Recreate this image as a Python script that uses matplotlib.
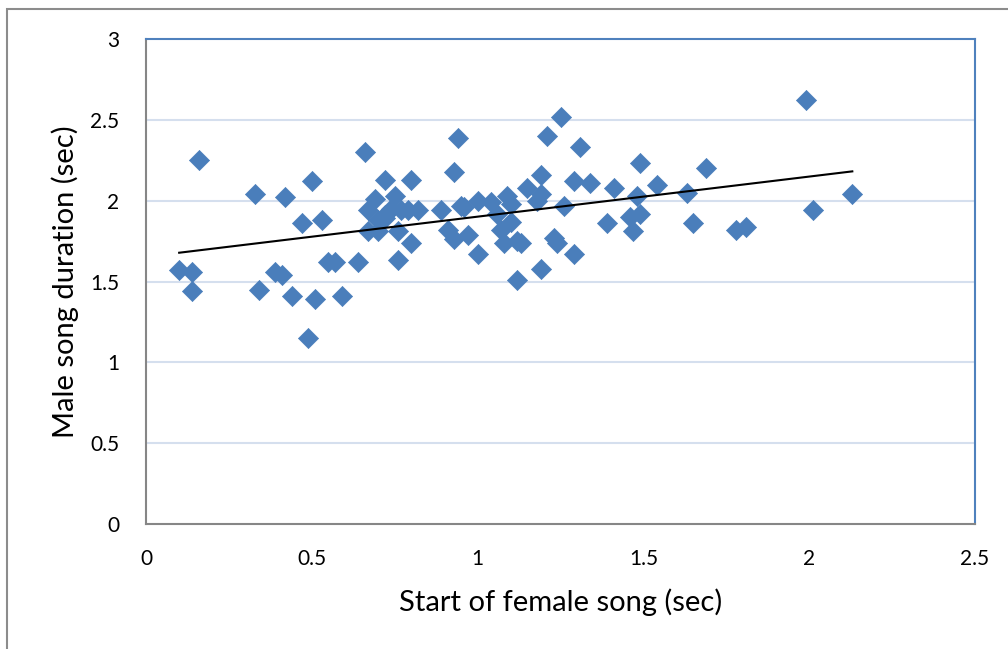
import numpy as np
import matplotlib
matplotlib.use("Agg")
import matplotlib.pyplot as plt
from matplotlib.patches import Rectangle

# Start of female song (sec)
female_start = [0.10, 0.14, 0.14, 0.16, 0.33, 0.34, 0.39, 0.41, 0.42, 0.44,
                0.47, 0.50, 0.49, 0.51, 0.53, 0.55, 0.57, 0.59, 0.64, 0.66,
                0.67, 0.67, 0.69, 0.70, 0.70, 0.72, 0.72, 0.72, 0.74, 0.75,
                0.76, 0.76, 0.77, 0.79, 0.80, 0.80, 0.82, 0.89, 0.91, 0.93,
                0.93, 0.94, 0.95, 0.96, 0.97, 1.00, 1.00, 1.04, 1.06, 1.07,
                1.08, 1.09, 1.10, 1.10, 1.12, 1.12, 1.13, 1.15, 1.18, 1.19,
                1.19, 1.19, 1.21, 1.23, 1.24, 1.25, 1.26, 1.29, 1.29, 1.31,
                1.34, 1.39, 1.41, 1.46, 1.47, 1.48, 1.49, 1.49, 1.54, 1.63,
                1.65, 1.69, 1.78, 1.81, 1.99, 2.01, 2.13]
# Male song duration (sec)
male_duration = [1.57, 1.44, 1.56, 2.25, 2.04, 1.45, 1.56, 1.54, 2.02, 1.41,
                 1.86, 2.12, 1.15, 1.39, 1.88, 1.62, 1.62, 1.41, 1.62, 2.30,
                 1.94, 1.81, 2.01, 1.81, 1.88, 1.89, 2.13, 1.91, 1.95, 2.03,
                 1.63, 1.81, 1.94, 1.94, 1.74, 2.13, 1.94, 1.94, 1.82, 1.76,
                 2.18, 2.39, 1.97, 1.96, 1.79, 1.67, 2.00, 1.99, 1.92, 1.82,
                 1.74, 2.03, 1.98, 1.87, 1.51, 1.75, 1.74, 2.08, 2.00, 2.04,
                 1.58, 2.16, 2.40, 1.77, 1.74, 2.52, 1.97, 1.67, 2.12, 2.33,
                 2.11, 1.86, 2.08, 1.90, 1.81, 2.03, 1.92, 2.23, 2.10, 2.05,
                 1.86, 2.20, 1.82, 1.84, 2.62, 1.94, 2.04]

x_ticks = [0, 0.5, 1, 1.5, 2, 2.5]
y_ticks = [0, 0.5, 1, 1.5, 2, 2.5, 3]
x_tick_labels = ["0", "0.5", "1", "1.5", "2", "2.5"]
y_tick_labels = ["0", "0.5", "1", "1.5", "2", "2.5", "3"]

plt.rcParams['font.family'] = ['Lato', 'DejaVu Sans']

W, H = 1008, 649
fig = plt.figure(figsize=(W / 100, H / 100), dpi=100)
fig.patch.set_facecolor('white')

# outer chart frame
fig.patches.append(Rectangle((7 / W, -0.1), 1.2, 1 - 9 / H + 0.1, transform=fig.transFigure,
                             fill=False, edgecolor='#8c8c8c', linewidth=1.5))

ax = fig.add_axes([146 / W, 1 - 524 / H, (975 - 146) / W, (524 - 39) / H])

x = np.array(female_start)
y = np.array(male_duration)

for yt in y_ticks[1:-1]:
    ax.axhline(yt, color='#d5dfee', linewidth=1.5, zorder=0)

ax.scatter(x, y, marker='D', s=105, color='#4a7ebb', edgecolors='#4a7ebb',
           linewidths=0.5, zorder=3)

coef = np.polyfit(x, y, 1)
xl = np.array([x.min(), x.max()])
ax.plot(xl, np.polyval(coef, xl), color='black', linewidth=1.5, zorder=4)

ax.set_xlim(0, 2.5)
ax.set_ylim(0, 3)
ax.set_xticks(x_ticks)
ax.set_xticklabels(x_tick_labels)
ax.set_yticks(y_ticks)
ax.set_yticklabels(y_tick_labels)
ax.tick_params(axis='both', length=0, labelsize=15, colors='black')
ax.tick_params(axis='x', pad=18)
ax.tick_params(axis='y', pad=19)

ax.spines['left'].set_color('#868686')
ax.spines['bottom'].set_color('#868686')
ax.spines['top'].set_color('#4f81bd')
ax.spines['right'].set_color('#4f81bd')
for s in ax.spines.values():
    s.set_linewidth(1.5)

ax.set_xlabel('Start of female song (sec)', fontsize=21, labelpad=14)
ax.set_ylabel('Male song duration (sec)', fontsize=21, labelpad=8)

fig.savefig('out.png', dpi=100, facecolor='white')
